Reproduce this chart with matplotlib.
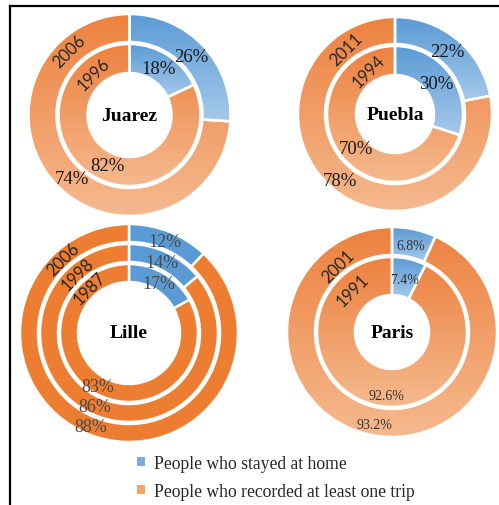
import numpy as np
import matplotlib
matplotlib.use('Agg')
import matplotlib.pyplot as plt
from matplotlib.colors import LinearSegmentedColormap
from matplotlib.patches import Patch
from matplotlib.lines import Line2D

W, H = 499, 506

# data: rings listed from outer to inner
cities = ['Juarez', 'Puebla', 'Lille', 'Paris']
juarez_years = ['2006', '1996']
juarez_home = [26, 18]
juarez_trip = [74, 82]
puebla_years = ['2011', '1994']
puebla_home = [22, 30]
puebla_trip = [78, 70]
lille_years = ['2006', '1998', '1987']
lille_home = [12, 14, 17]
lille_trip = [88, 86, 83]
paris_years = ['2001', '1991']
paris_home = [6.8, 7.4]
paris_trip = [93.2, 92.6]
legend_labels = ['People who stayed at home', 'People who recorded at least one trip']

data = {
    'Juarez': (juarez_years, juarez_home, juarez_trip),
    'Puebla': (puebla_years, puebla_home, puebla_trip),
    'Lille': (lille_years, lille_home, lille_trip),
    'Paris': (paris_years, paris_home, paris_trip),
}

# layout in pixels (y measured from top); label positions as (angle, radius)
layout = {
    'Juarez': dict(center=(129.5, 116), rings=[(101, 28), (71, 29)],
                   trip_pos=[(228, 86), (246, 55)], year_pos=[(133, 88), (131, 55)],
                   gradient=True, fs=13.5, pcol='#1a1a1a'),
    'Puebla': dict(center=(395, 115), rings=[(97, 27), (68, 29)],
                   trip_pos=[(230.5, 86), (222, 52)], year_pos=[(126.6, 81), (121.6, 51)],
                   gradient=True, fs=13.5, pcol='#1a1a1a'),
    'Lille': dict(center=(129, 334), rings=[(109, 18), (89, 18), (69, 18)],
                  trip_pos=[(248, 101), (245, 81), (240, 62)],
                  year_pos=[(131.6, 99), (131, 79), (131, 59.5)],
                  gradient=False, fs=13, pcol='#4a4a4a'),
    'Paris': dict(center=(392, 333), rings=[(105, 28), (75, 38)],
                  trip_pos=[(259.5, 94), (265, 64)], year_pos=[(129, 85), (133, 57)],
                  gradient=True, fs=10, pcol='#333333'),
}

blue, orange = '#5b9bd5', '#ed7d31'
blue_grad = ('#5b9bd5', '#a5c9eb')
orange_grad = ('#ed8240', '#f5b98e')


def shade(ax, wedge, c_top, c_bottom):
    x0, y0, x1, y1 = wedge.get_path().get_extents().extents
    cmap = LinearSegmentedColormap.from_list('g', [c_bottom, c_top])
    grad = np.linspace(0, 1, 64).reshape(-1, 1)
    im = ax.imshow(grad, cmap=cmap, origin='lower', extent=(x0, x1, y0, y1),
                   aspect='auto', interpolation='bilinear', zorder=1)
    im.set_clip_path(wedge)
    wedge.set_facecolor('none')
    wedge.set_zorder(2)


def polar(cx, cy, ang, r):
    a = np.deg2rad(ang)
    return cx + r * np.cos(a), cy + r * np.sin(a)


fig = plt.figure(figsize=(W / 100, H / 100), dpi=100)
ax = fig.add_axes([0, 0, 1, 1])

for city in cities:
    years, home, trip = data[city]
    lay = layout[city]
    cx, cy = lay['center'][0], H - lay['center'][1]
    for i, (r, w) in enumerate(lay['rings']):
        wedges, _ = ax.pie([home[i], trip[i]], radius=r, center=(cx, cy),
                           startangle=90, counterclock=False, colors=[blue, orange],
                           wedgeprops=dict(width=w, edgecolor='white', linewidth=1.8))
        if lay['gradient']:
            shade(ax, wedges[0], *blue_grad)
            shade(ax, wedges[1], *orange_grad)
        # home label at middle of its wedge
        wb = wedges[0]
        mid = (wb.theta1 + wb.theta2) / 2
        x, y = polar(cx, cy, mid, r - w / 2 - 2)
        ax.text(x, y, f'{home[i]:g}%', ha='center', va='center', fontsize=lay['fs'],
                family='Liberation Serif', color=lay['pcol'], zorder=5)
        x, y = polar(cx, cy, *lay['trip_pos'][i])
        ax.text(x, y, f'{trip[i]:g}%', ha='center', va='center', fontsize=lay['fs'],
                family='Liberation Serif', color=lay['pcol'], zorder=5)
        x, y = polar(cx, cy, *lay['year_pos'][i])
        ax.text(x, y, years[i], ha='center', va='center', fontsize=12, rotation=45,
                rotation_mode='anchor', family='Lato', color='#262626', zorder=5)
    ax.text(cx, cy, city, ha='center', va='center', fontsize=14, fontweight='bold',
            family='Liberation Serif', color='black', zorder=5)

# frame lines on top and left
ax.add_line(Line2D([10, W], [H - 7, H - 7], color='black', lw=1.6))
ax.add_line(Line2D([10, 10], [0, H - 7], color='black', lw=1.6))

handles = [Patch(facecolor='#79acdf', edgecolor='none'),
           Patch(facecolor='#f4a468', edgecolor='none')]
ax.legend(handles, legend_labels, loc='upper left', bbox_to_anchor=(137, H - 456),
          bbox_transform=ax.transData, frameon=False,
          prop=dict(family='Liberation Serif', size=12.7), handlelength=0.45,
          handleheight=0.45, handletextpad=0.5, labelspacing=0.6,
          borderpad=0, borderaxespad=0, labelcolor='#262626')

ax.set_xlim(0, W)
ax.set_ylim(0, H)
ax.set_aspect('auto')
ax.axis('off')

fig.savefig('out.png', dpi=100)
